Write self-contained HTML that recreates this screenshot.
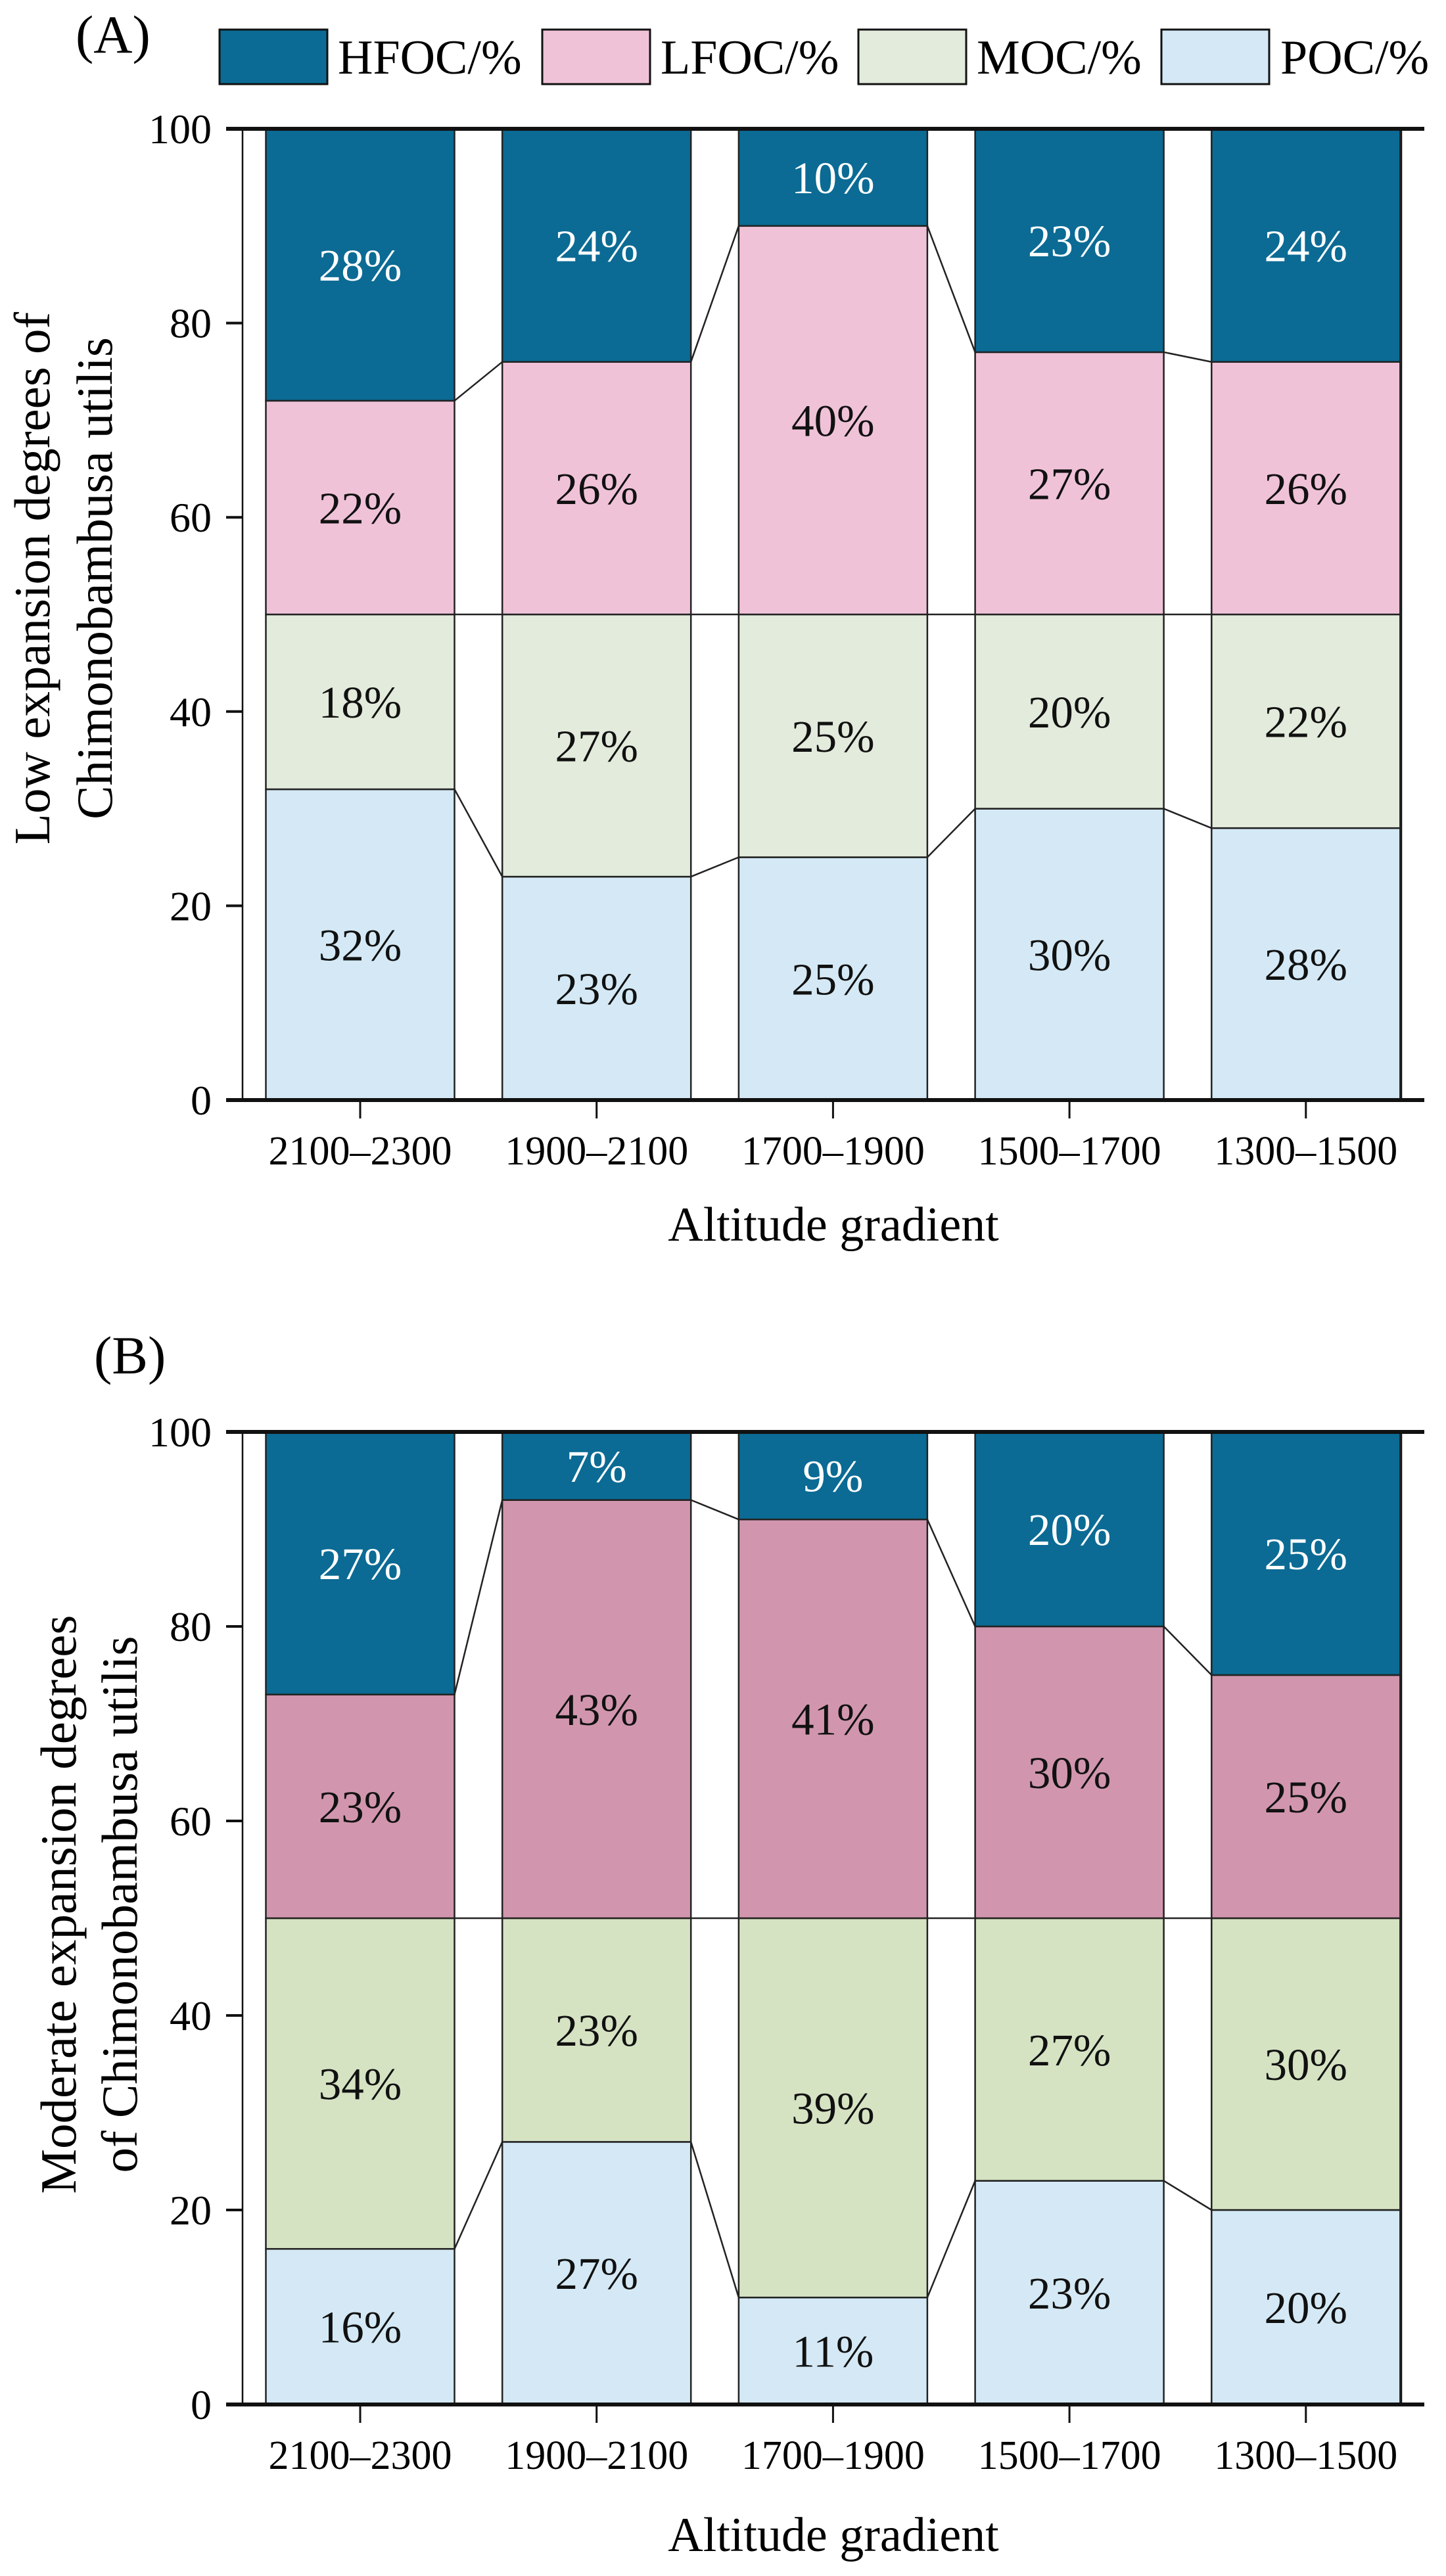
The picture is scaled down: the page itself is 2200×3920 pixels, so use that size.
<!DOCTYPE html>
<html><head><meta charset="utf-8"><style>
html,body{margin:0;padding:0;background:#fff;}
svg{display:block;font-family:"Liberation Serif",serif;}
</style></head><body>
<svg id="chart" width="2200" height="3920" viewBox="0 0 2200 3920" xmlns="http://www.w3.org/2000/svg">
<g font-size="74">
 <rect x="334" y="45" width="164" height="83" fill="#0b6b94" stroke="#111" stroke-width="3"/>
 <text x="514" y="112">HFOC/%</text>
 <rect x="825" y="45" width="164" height="83" fill="#f0c2d8" stroke="#111" stroke-width="3"/>
 <text x="1005" y="112">LFOC/%</text>
 <rect x="1306" y="45" width="164" height="83" fill="#e3ebdc" stroke="#111" stroke-width="3"/>
 <text x="1486" y="112">MOC/%</text>
 <rect x="1767" y="45" width="164" height="83" fill="#d4e9f5" stroke="#111" stroke-width="3"/>
 <text x="1948" y="112">POC/%</text>
</g>
<text x="115" y="80" font-size="82">(A)</text>
<text x="143" y="2090" font-size="82">(B)</text>
<text transform="translate(75,880) rotate(-90)" text-anchor="middle" font-size="77"><tspan x="0" y="0">Low expansion degrees of</tspan><tspan x="0" y="95">Chimonobambusa utilis</tspan></text>
<text transform="translate(115,2898) rotate(-90)" text-anchor="middle" font-size="77"><tspan x="0" y="0">Moderate expansion degrees</tspan><tspan x="0" y="93">of Chimonobambusa utilis</tspan></text>
<text x="1268" y="1888" text-anchor="middle" font-size="74">Altitude gradient</text>
<text x="1268" y="3882" text-anchor="middle" font-size="74">Altitude gradient</text>
</svg>
<script>
const categories = ["2100–2300","1900–2100","1700–1900","1500–1700","1300–1500"];
const seriesNames = ["POC","MOC","LFOC","HFOC"];
const yTicks = [0,20,40,60,80,100];
const aPOC = [32,23,25,30,28];
const aMOC = [18,27,25,20,22];
const aLFOC = [22,26,40,27,26];
const aHFOC = [28,24,10,23,24];
const bPOC = [16,27,11,23,20];
const bMOC = [34,23,39,27,30];
const bLFOC = [23,43,41,30,25];
const bHFOC = [27,7,9,20,25];

const NS = "http://www.w3.org/2000/svg";
const svg = document.getElementById('chart');
function mk(tag, attrs, parent){const e=document.createElementNS(NS,tag);for(const k in attrs)e.setAttribute(k,attrs[k]);parent.appendChild(e);return e;}

function drawPanel(id, top, bottom, series, colors, textColors){
  const g = mk('g',{},svg);
  
  
  const y = v => bottom - (bottom-top)*v/100;
  const xc = i => 548 + i*359.7;
  const bw = 287;
  const fr = mk('path',{d:`M369 ${top} V${bottom} M2132 ${top} V${bottom}`,stroke:'#111','stroke-width':2.5,fill:'none'},g);
  
  
  const cum = categories.map(()=>0);
  series.forEach((vals, s) => {
    categories.forEach((c, i) => {
      const v0 = cum[i], v1 = cum[i]+vals[i];
      const r = mk('rect',{x:xc(i)-bw/2,y:y(v1),width:bw,height:y(v0)-y(v1),fill:colors[s],stroke:'#222','stroke-width':2.5},g);
      
      
      const t = mk('text',{x:xc(i),y:y((v0+v1)/2)+24,'text-anchor':'middle','font-size':69,fill:textColors[s]},g);
      t.textContent = vals[i]+'%';
      
      
    });
    for(let i=0;i<categories.length-1;i++){
      const l = mk('line',{x1:xc(i)+bw/2,y1:y(cum[i]+vals[i]),x2:xc(i+1)-bw/2,y2:y(cum[i+1]+vals[i+1]),stroke:'#222','stroke-width':2.5},g);
      
      
    }
    categories.forEach((c,i)=>cum[i]+=vals[i]);
  });
  const ax = mk('path',{d:`M344 ${top} H2167 M344 ${bottom} H2167`,stroke:'#111','stroke-width':6,fill:'none'},g);
  
  
  yTicks.forEach(v=>{
    const tk = mk('line',{x1:344,x2:369,y1:y(v),y2:y(v),stroke:'#111','stroke-width':4},g);
    
    
    const tl = mk('text',{x:322,y:y(v)+22,'text-anchor':'end','font-size':64},g);
    tl.textContent = v;
    
    
  });
  categories.forEach((c,i)=>{
    const tk = mk('line',{x1:xc(i),x2:xc(i),y1:bottom,y2:bottom+28,stroke:'#111','stroke-width':3},g);
    
    
    const tl = mk('text',{x:xc(i),y:bottom+98,'text-anchor':'middle','font-size':62},g);
    tl.textContent = c;
    
    
  });
}
drawPanel('a', 196, 1674, [aPOC,aMOC,aLFOC,aHFOC], ['#d4e9f5','#e3ebdc','#f0c2d8','#0b6b94'], ['#111','#111','#111','#fff']);
drawPanel('b', 2179, 3659, [bPOC,bMOC,bLFOC,bHFOC], ['#d4e9f5','#d5e3c3','#d196ad','#0b6b94'], ['#111','#111','#111','#fff']);
</script>
</body></html>
